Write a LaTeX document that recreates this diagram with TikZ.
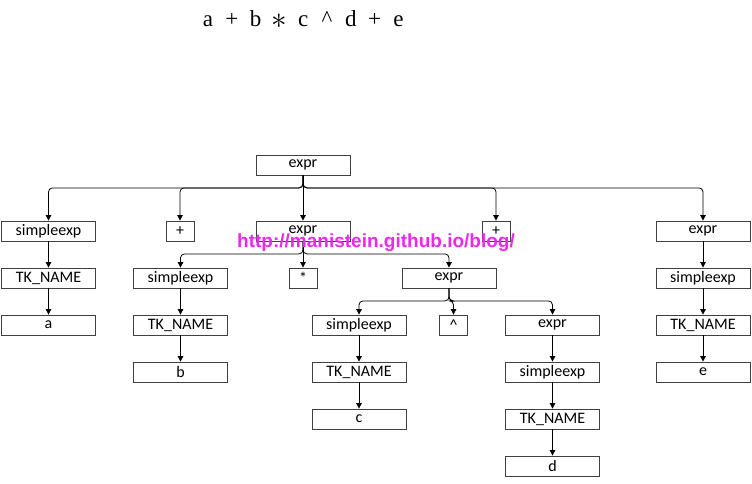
\documentclass[tikz,border=0pt]{standalone}
\usepackage{fontspec}
\setmainfont{Liberation Serif}
\newfontfamily\boxfont{Carlito}
\newfontfamily\markfont{Liberation Sans}
\usetikzlibrary{arrows.meta}
\definecolor{frame}{RGB}{64,64,64}
\definecolor{wmark}{RGB}{235,40,235}

\begin{document}
\begin{tikzpicture}[x=1pt,y=-1pt,
    box/.style={draw=frame,line width=0.8pt,minimum width=94pt,minimum height=20pt,inner sep=0pt,
      font=\boxfont\fontsize{16}{16}\selectfont},
    opbox/.style={box,minimum width=28pt},
    link/.style={black,line width=0.8pt,rounded corners=4pt,-{Triangle[length=5.5pt,width=5.5pt]}}]
  \useasboundingbox (0,0) rectangle (752,484);
  % the source line
  \foreach \t [count=\i] in {a,+,b,\raisebox{-1.5pt}{\scalebox{1.25}{$\ast$}},c,\^{},d,+,e}
    \node[anchor=base,inner sep=0pt,font=\fontsize{23}{23}\selectfont] (tok\i) at (184.2+23.8*\i,27) {\t};
  % tree nodes
  \foreach \n/\x/\y/\t in {root/303/165/expr,
      s1/48.5/231/simpleexp, e2/303/231/expr, e5/703/231/expr,
      k1/48.5/278/TK\_NAME, la/48.5/325/a,
      s2/180.5/278/simpleexp, e3/449/278/expr, k2/180.5/325/TK\_NAME, lb/180.5/372/b,
      s3/359/325/simpleexp, e4/552.5/325/expr, k3/359/372/TK\_NAME, lc/359/419/c,
      s4/552.5/372/simpleexp, k4/552.5/419/TK\_NAME, ld/552.5/466/d,
      s5/703/278/simpleexp, k5/703/325/TK\_NAME, le/703/372/e}
    \node[box] (\n) at (\x,\y) {\t};
  \foreach \n/\x/\y/\t in {plus1/180/231/+, plus2/496/231/+, star/303/278/*, hat/453.5/325/\^{}}
    \node[opbox] (\n) at (\x,\y) {\t};
  % branches
  \foreach \p/\c in {root/s1,root/plus1,root/plus2,root/e5,e2/s2,e2/e3,e3/s3,e3/hat,e3/e4}
    \draw[link] (\p.south) -- ++(0,12.5) -| (\c.north);
  \foreach \p/\c in {root/e2,e2/star,s1/k1,k1/la,s2/k2,k2/lb,s3/k3,k3/lc,
      e4/s4,s4/k4,k4/ld,e5/s5,s5/k5,k5/le}
    \draw[link] (\p.south) -- (\c.north);
  % watermark
  \node[text=wmark,font=\markfont\bfseries\fontsize{19}{19}\selectfont] (mark) at (376,243)
    {http://manistein.github.io/blog/};
\end{tikzpicture}
\end{document}
